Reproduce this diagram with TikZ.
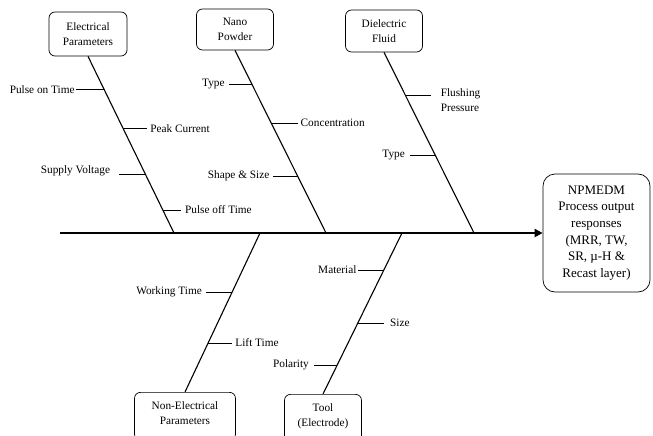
\documentclass[tikz,border=0pt]{standalone}
\usepackage{fontspec}
\setmainfont{Liberation Serif}
\usetikzlibrary{arrows.meta}
\begin{document}
\begin{tikzpicture}[x=1pt,y=-1pt]
	\tikzstyle{cause box}=[draw,rounded corners=6pt,align=center,font=\fontsize{11.3}{15}\selectfont,minimum width=77pt,minimum height=42pt,inner sep=2pt,line width=0.7pt]
	\tikzstyle{factor}=[font=\fontsize{11.3}{15}\selectfont,inner sep=1pt]
	\tikzstyle{bone}=[line width=1.1pt]
	\tikzstyle{rib}=[line width=0.7pt]
	\clip (0,0) rectangle (653,436);
	% effect and spine
	\node(out)[draw,rounded corners=12pt,align=center,minimum width=107pt,minimum height=118pt,inner sep=2pt,line width=0.7pt,font=\fontsize{13}{16.6}\selectfont] at (596.5,233) {NPMEDM\\Process output\\responses\\(MRR, TW,\\SR, µ-H \&\\Recast layer)};
	\coordinate(tail) at (60,233);
	\coordinate(s1) at (174,233);
	\coordinate(s2) at (326,233);
	\coordinate(s3) at (474,233);
	\coordinate(s4) at (260,233);
	\coordinate(s5) at (402,233);
	\draw[line width=2.4pt,-{Triangle[length=8pt,width=8pt]}](tail)--(out.west);
	% causes
	\node(ep)[cause box,minimum width=78pt,minimum height=44pt] at (88,34) {Electrical\\Parameters};
	\node(np)[cause box,minimum height=41pt] at (235,29.5) {Nano\\Powder};
	\node(df)[cause box] at (384,31) {Dielectric\\Fluid};
	\node(ne)[cause box,minimum width=101pt,minimum height=48pt,anchor=north,text depth=6pt] at (185,392) {Non-Electrical\\Parameters};
	\node(tl)[cause box,minimum height=48pt,anchor=north,text depth=6pt] at (323,394) {Tool\\(Electrode)};
	% bones
	\draw[bone](ep.south)--(s1) coordinate[pos=0.186](ep1) coordinate[pos=0.407](ep2) coordinate[pos=0.667](ep3) coordinate[pos=0.870](ep4);
	\draw[bone](np.south)--(s2) coordinate[pos=0.186](np1) coordinate[pos=0.399](np2) coordinate[pos=0.689](np3);
	\draw[bone](df.south)--(s3) coordinate[pos=0.238](df1) coordinate[pos=0.569](df2);
	\draw[bone](ne.north)--(s4) coordinate[pos=0.308](ne1) coordinate[pos=0.629](ne2);
	\draw[bone](tl.north)--(s5) coordinate[pos=0.180](tl1) coordinate[pos=0.441](tl2) coordinate[pos=0.770](tl3);
	% ribs
	\draw[rib](ep1)--++(-28,0) node[factor,left](pot){Pulse on Time};
	\draw[rib](ep2)--++(24,0) node[factor,right=2pt](pc){Peak Current};
	\draw[rib](ep3)--++(-26,0) node[factor,left=8pt,yshift=3pt](sv){Supply Voltage};
	\draw[rib](ep4)--++(18,0) node[factor,right=3pt](poff){Pulse off Time};
	\draw[rib](np1)--++(-23,0) node[factor,left=3pt](npt){Type};
	\draw[rib](np2)--++(27,0) node[factor,right=1pt](conc){Concentration};
	\draw[rib](np3)--++(-25,0) node[factor,left=2pt](shs){Shape \& Size};
	\draw[rib](df1)--++(26,0) node[factor,right=8pt,yshift=-4.5pt,align=left](fp){Flushing\\Pressure};
	\draw[rib](df2)--++(-25,0) node[factor,left=4pt](dft){Type};
	\draw[rib](ne2)--++(-26,0) node[factor,left=3pt](wt){Working Time};
	\draw[rib](ne1)--++(24,0) node[factor,right=2pt](lt){Lift Time};
	\draw[rib](tl3)--++(-26,0) node[factor,left](mat){Material};
	\draw[rib](tl2)--++(26,0) node[factor,right=5pt](sz){Size};
	\draw[rib](tl1)--++(-23,0) node[factor,left=4pt](pol){Polarity};
\end{tikzpicture}
\end{document}
